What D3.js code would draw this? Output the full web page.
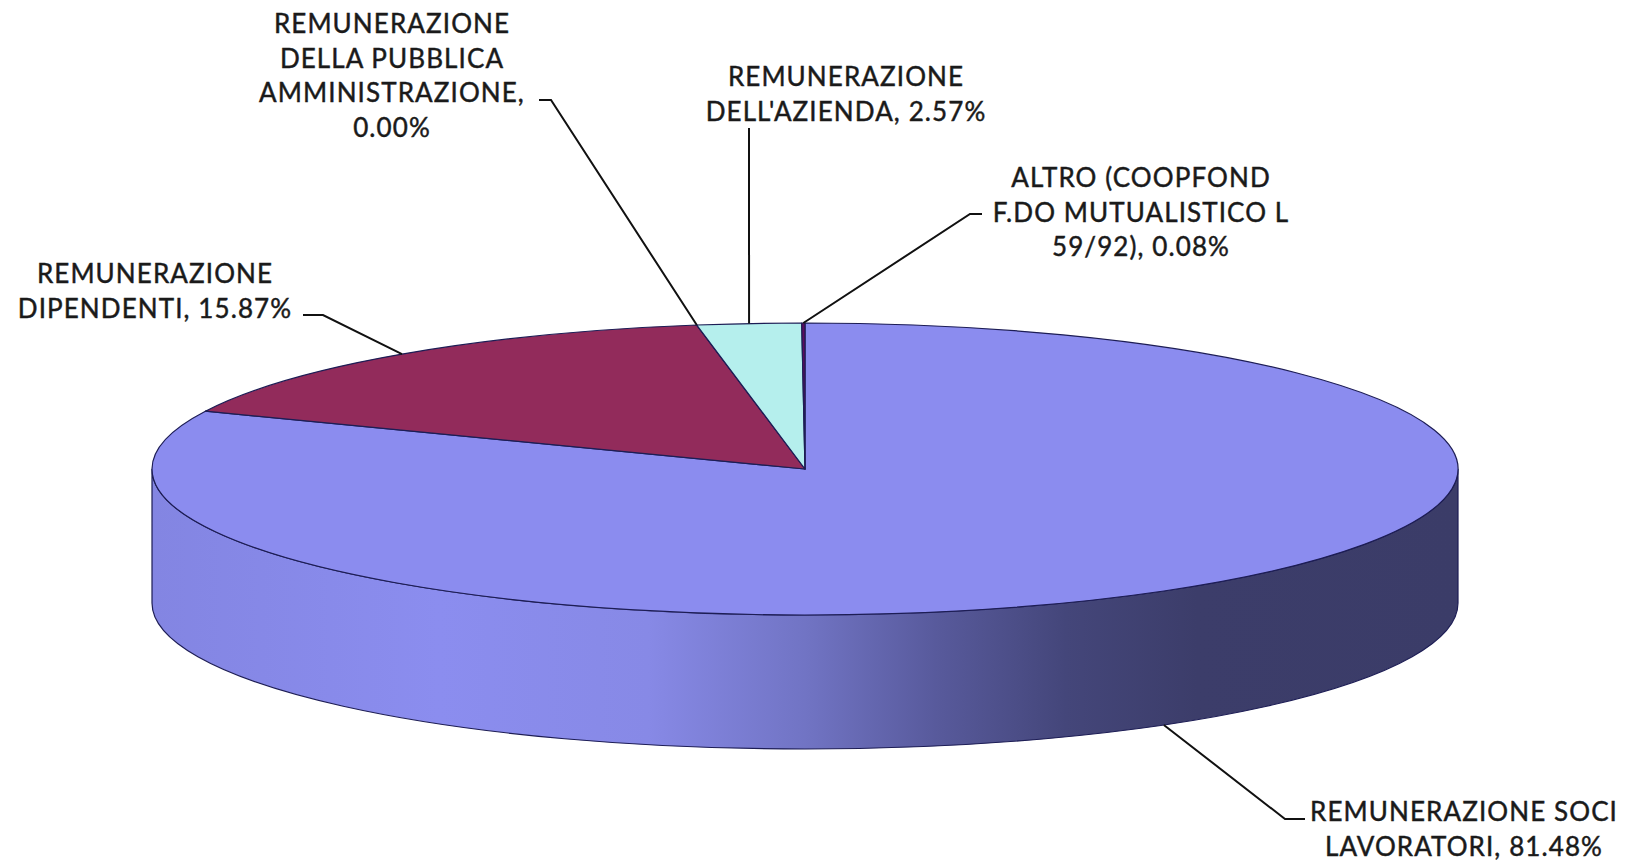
<!DOCTYPE html>
<html>
<head>
<meta charset="utf-8">
<script src="https://cdnjs.cloudflare.com/ajax/libs/d3/7.8.5/d3.min.js"></script>
<style>
  html, body { margin: 0; padding: 0; background: #fff; overflow: hidden; }
  .etichetta { font-family: Lato, "Open Sans", sans-serif; font-size: 26px; fill: #1a1a1a; stroke: #1a1a1a; stroke-width: 0.45; letter-spacing: 1.1px; }
  .leader { stroke: #111; stroke-width: 2; fill: none; }
</style>
</head>
<body>
<div id="chart"></div>
<script>
// Dati del grafico (percentuali)
const categorie = [
    "REMUNERAZIONE SOCI LAVORATORI",
    "REMUNERAZIONE DIPENDENTI",
    "REMUNERAZIONE DELLA PUBBLICA AMMINISTRAZIONE",
    "REMUNERAZIONE DELL'AZIENDA",
    "ALTRO (COOPFOND F.DO MUTUALISTICO L 59/92)"
];
const valori = [81.48, 15.87, 0.00, 2.57, 0.08];

// Righe delle etichette (come vanno a capo nell'originale)
const righeEtichette = [
    ["REMUNERAZIONE SOCI", "LAVORATORI"],
    ["REMUNERAZIONE", "DIPENDENTI"],
    ["REMUNERAZIONE", "DELLA PUBBLICA", "AMMINISTRAZIONE"],
    ["REMUNERAZIONE", "DELL'AZIENDA"],
    ["ALTRO (COOPFOND", "F.DO MUTUALISTICO L", "59/92)"]
];
const valoreACapo = [false, false, true, false, false];

const colori = ["#8b8cef", "#922b5b", "#f2f2c4", "#b5efed", "#5e0a5e"];

// Dimensioni e geometria della torta 3D
const width = 1627;
const height = 863;
const cx = 805, cy = 469;
const rx = 653, ry = 146;
const spessore = 134;

// Posizione etichette e linee guida
const layout = [
    { x: 1464, y: 812, ax: 1305, ay: 819, tick: -20, faccia: "lato" },
    { x: 155, y: 274, ax: 303, ay: 315, tick: 20, faccia: "sopra" },
    { x: 392, y: 24, ax: 539, ay: 100, tick: 12, faccia: "sopra" },
    { x: 846, y: 77, ax: 749, ay: 128, tick: 0, faccia: "sopra" },
    { x: 1141, y: 178, ax: 982, ay: 214, tick: -12, faccia: "sopra" }
];
const interlinea = 34.5;

const svg = d3.select("#chart")
    .append("svg")
    .attr("width", width)
    .attr("height", height);

// Gradiente per il bordo laterale
const grad = svg.append("defs").append("linearGradient")
    .attr("id", "lato")
    .attr("gradientUnits", "userSpaceOnUse")
    .attr("x1", cx - rx).attr("x2", cx + rx)
    .attr("y1", 0).attr("y2", 0);
[[0, "#8385e2"], [0.22, "#8b8def"], [0.38, "#8789e6"], [0.5, "#7174c4"],
 [0.6, "#585a9c"], [0.7, "#44467a"], [0.8, "#3c3d6a"], [1, "#3b3c68"]]
    .forEach(s => grad.append("stop").attr("offset", s[0]).attr("stop-color", s[1]));

const pie = d3.pie().sort(null).startAngle(0).endAngle(2 * Math.PI);
const archi = pie(valori);

function punto(a, dz) {
    return [cx + rx * Math.sin(a), cy - ry * Math.cos(a) + (dz || 0)];
}

// Bordo laterale (solo la metà davanti è visibile)
archi.forEach(function(d, i) {
    const s = Math.max(d.startAngle, Math.PI / 2);
    const e = Math.min(d.endAngle, 3 * Math.PI / 2);
    if (s >= e) return;
    const p0 = punto(s), p1 = punto(e);
    const q0 = punto(s, spessore), q1 = punto(e, spessore);
    const large = (e - s) > Math.PI ? 1 : 0;
    svg.append("path")
        .attr("d", `M${p0} A${rx},${ry} 0 ${large} 1 ${p1} L${q1} A${rx},${ry} 0 ${large} 0 ${q0} Z`)
        .attr("fill", i === 0 ? "url(#lato)" : colori[i])
        .attr("stroke", "#1d1d55")
        .attr("stroke-width", 1.2);
});

// Facce superiori degli spicchi
archi.forEach(function(d, i) {
    const p0 = punto(d.startAngle), p1 = punto(d.endAngle);
    const large = (d.endAngle - d.startAngle) > Math.PI ? 1 : 0;
    svg.append("path")
        .attr("d", `M${cx},${cy} L${p0} A${rx},${ry} 0 ${large} 1 ${p1} Z`)
        .attr("fill", colori[i])
        .attr("stroke", "#1d1d55")
        .attr("stroke-width", 1.2)
        .attr("stroke-linejoin", "round");
});

// Linee guida ed etichette
archi.forEach(function(d, i) {
    const L = layout[i];
    const mid = (d.startAngle + d.endAngle) / 2;
    const target = L.faccia === "lato" ? punto(mid, spessore) : punto(mid);
    const pts = [[L.ax, L.ay], [L.ax + L.tick, L.ay], target];
    svg.append("path")
        .attr("class", "leader")
        .attr("d", d3.line()(pts));

    const perc = valori[i].toFixed(2) + "%";
    let righe = righeEtichette[i].slice();
    if (valoreACapo[i]) {
        righe[righe.length - 1] += ",";
        righe.push(perc);
    } else {
        righe[righe.length - 1] += ", " + perc;
    }
    const t = svg.append("text")
        .attr("class", "etichetta")
        .attr("text-anchor", "middle");
    righe.forEach(function(r, k) {
        t.append("tspan")
            .attr("x", L.x)
            .attr("y", L.y + k * interlinea + 9)
            .text(r);
    });
});
</script>
</body>
</html>
